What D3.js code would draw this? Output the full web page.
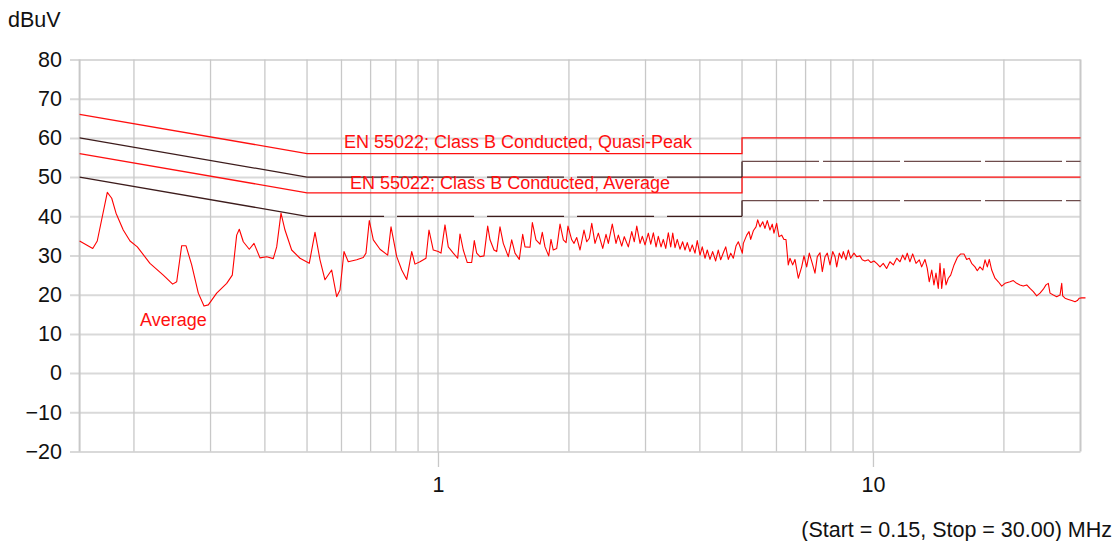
<!DOCTYPE html>
<html>
<head>
<meta charset="utf-8">
<script src="https://cdn.jsdelivr.net/npm/d3@7"></script>
<style>
  body { margin: 0; background: #fff; }
  svg { display: block; font-family: "Liberation Sans", Arial, Helvetica, sans-serif; }
</style>
</head>
<body>
<div id="chart"></div>
<script>
// EN 55022 conducted emission plot (average detector)

const yTicks = [-20, -10, 0, 10, 20, 30, 40, 50, 60, 70, 80];
const xLabelTicks = [1, 10];
const gridFreqs = [0.2, 0.3, 0.4, 0.5, 0.6, 0.7, 0.8, 0.9, 1, 2, 3, 4, 5, 6, 7, 8, 9, 10, 20, 30];

// limit lines [MHz, dBuV]
const qpLimit = [[0.15, 66], [0.5, 56], [5, 56], [5, 60], [30, 60]];
const avLimit = [[0.15, 56], [0.5, 46], [5, 46], [5, 50], [30, 50]];
const qpMargin = [[0.15, 60], [0.5, 50], [5, 50], [5, 54], [30, 54]];
const avMargin = [[0.15, 50], [0.5, 40], [5, 40], [5, 44], [30, 44]];

const avgFreq = [
  0.15, 0.1608, 0.1647, 0.1737, 0.1778, 0.1819, 0.189, 0.1959, 0.2036, 0.2177,
  0.2336, 0.2455, 0.2508, 0.2575, 0.2634, 0.2715, 0.2812, 0.2898, 0.2965, 0.3099,
  0.3268, 0.3366, 0.3445, 0.3493, 0.3568, 0.3683, 0.3776, 0.3897, 0.4038, 0.4182,
  0.4258, 0.4356, 0.4449, 0.4609, 0.4817, 0.5059, 0.5215, 0.5355, 0.5498, 0.5696,
  0.5849, 0.5953, 0.608, 0.622, 0.6503, 0.6734, 0.6831, 0.6952, 0.7101, 0.7357,
  0.7663, 0.7799, 0.8038, 0.8254, 0.8475, 0.8702, 0.8853, 0.9091, 0.9384, 0.9535,
  0.9754, 1.0016, 1.016, 1.0378, 1.056, 1.0844, 1.1099, 1.1235, 1.1433, 1.1678,
  1.1953, 1.2119, 1.2274, 1.249, 1.2757, 1.301, 1.3169, 1.3451, 1.3645, 1.3885,
  1.413, 1.451, 1.4773, 1.5033, 1.5379, 1.5658, 1.585, 1.628, 1.648, 1.68,
  1.716, 1.737, 1.762, 1.797, 1.819, 1.841, 1.875, 1.908, 1.942, 1.97,
  1.99, 2.03, 2.055, 2.084, 2.121,
  2.166, 2.198, 2.228, 2.257, 2.296, 2.337, 2.392, 2.434, 2.464, 2.516,
  2.566, 2.598, 2.645, 2.681, 2.739, 2.789, 2.827, 2.864, 2.914, 2.95,
  2.992, 3.045, 3.084, 3.127, 3.172, 3.21, 3.257, 3.296, 3.339, 3.385,
  3.428, 3.465, 3.507, 3.549, 3.6, 3.652, 3.697, 3.742, 3.796, 3.842,
  3.898, 3.945, 4.003, 4.051, 4.11, 4.16, 4.22, 4.28, 4.349, 4.409,
  4.466, 4.529, 4.587, 4.65, 4.71, 4.775, 4.843, 4.903, 4.966, 5.008,
  5.035, 5.126, 5.189, 5.235, 5.308, 5.385, 5.433, 5.5, 5.58, 5.645,
  5.715, 5.797, 5.868, 5.921, 6.006, 6.08, 6.167, 6.243, 6.31, 6.387,
  6.445, 6.538, 6.618, 6.735, 6.857, 6.941, 7.041, 7.139, 7.253, 7.357,
  7.448, 7.554, 7.648, 7.758, 7.853, 7.966, 8.081, 8.18, 8.254, 8.368,
  8.475, 8.547, 8.67, 8.777, 8.887, 9.043, 9.173, 9.335, 9.449, 9.585,
  9.754, 9.895, 10.05, 10.2, 10.38, 10.56, 10.75, 10.94, 11.14, 11.34,
  11.54, 11.7, 11.85, 11.99, 12.16, 12.34, 12.56, 12.78, 12.94, 13.17,
  13.33, 13.47, 13.65, 13.81, 13.96, 14.13, 14.26, 14.39, 14.56, 14.72,
  14.9, 15.09, 15.36, 15.63, 15.91, 16.19, 16.42, 16.65, 16.86, 17.16,
  17.37, 17.62, 17.88, 18.1, 18.32, 18.51, 18.75, 19.08, 19.42, 19.77,
  20.12, 20.66, 21.02, 21.4, 21.78, 22.16, 22.57, 22.96, 23.37, 23.79,
  24.21, 24.64, 24.99, 25.3, 25.53, 25.98, 26.45, 26.92, 27.16, 27.3,
  27.64, 28.13, 28.64, 29.14, 29.5, 29.81, 30.2, 30.8
];
const avgLevel = [
  33.7, 31.8, 33.7, 46.1, 44.6, 40.8, 36.5, 33.7, 32.2, 28.0,
  25.0, 22.7, 23.3, 32.5, 32.5, 27.6, 20.4, 17.1, 17.4, 20.4,
  22.9, 25.0, 35.2, 36.7, 33.5, 31.6, 33.1, 29.4, 29.7, 29.2,
  32.2, 40.8, 36.5, 31.4, 29.3, 28.0, 35.9, 28.9, 23.8, 26.3,
  19.5, 21.2, 31.0, 28.4, 28.9, 29.5, 30.6, 38.9, 34.0, 31.6,
  30.1, 37.3, 29.7, 26.3, 23.9, 31.0, 27.8, 28.4, 29.3, 36.5,
  31.4, 31.0, 30.6, 37.8, 32.2, 30.6, 29.3, 35.5, 31.4, 28.2,
  28.2, 33.8, 30.6, 29.7, 29.9, 37.5, 34.0, 31.4, 31.0, 37.3,
  33.1, 29.7, 34.0, 30.6, 29.0, 35.4, 32.2, 32.1, 38.4, 34.0,
  32.9, 35.9, 32.2, 29.9, 34.1, 31.4, 31.8, 38.0, 34.0, 33.3,
  37.5, 34.0, 33.1, 34.6, 31.4,
  36.5, 33.5, 34.4, 38.2, 33.1, 35.7, 31.8, 35.4, 33.1, 38.0,
  33.1, 35.2, 32.4, 34.8, 32.2, 36.1, 33.5, 37.5, 33.1, 34.9,
  32.7, 35.7, 32.9, 35.8, 32.2, 34.9, 32.2, 34.1, 31.8, 35.8,
  32.2, 35.7, 32.0, 34.1, 31.6, 33.5, 31.4, 33.3, 31.0, 32.7,
  30.6, 33.8, 30.1, 32.2, 29.3, 31.4, 29.0, 31.0, 28.6, 31.4,
  28.9, 30.7, 32.2, 29.0, 30.6, 29.3, 32.4, 33.5, 31.8, 30.6,
  33.1, 35.2, 36.1, 34.1, 36.3, 37.3, 39.1, 37.3, 38.6, 36.9,
  38.9, 36.5, 38.0, 35.7, 38.2, 34.8, 35.2, 34.1, 34.1, 27.6,
  29.3, 27.6, 29.0, 24.2, 27.1, 29.9, 27.1, 30.6, 28.0, 25.5,
  29.7, 30.7, 25.9, 29.7, 30.6, 27.6, 31.0, 29.7, 27.1, 30.6,
  29.3, 31.0, 28.9, 31.4, 29.3, 30.6, 29.7, 29.9, 28.9, 28.6,
  28.9, 28.2, 28.6, 28.0, 27.1, 28.0, 26.7, 28.4, 27.6, 29.3,
  28.4, 30.1, 28.9, 30.6, 28.4, 30.4, 28.0, 28.9, 27.1, 29.0,
  26.7, 23.3, 26.3, 22.5, 25.5, 21.6, 28.0, 21.6, 26.7, 22.5,
  24.2, 25.0, 27.6, 29.5, 30.4, 30.4, 29.0, 29.3, 28.0, 27.1,
  26.1, 27.1, 26.3, 28.9, 27.1, 29.0, 26.3, 24.2, 23.3, 22.2,
  22.9, 23.3, 23.6, 22.9, 22.5, 22.2, 22.5, 21.6, 20.8, 19.7,
  20.4, 21.4, 22.5, 22.9, 20.4, 19.9, 19.5, 19.9, 22.9, 19.7,
  19.1, 18.8, 18.5, 18.2, 18.5, 19.1, 19.2, 19.2
];

const width = 1118;
const height = 541;
const plot = { left: 79.6, right: 1080.5, top: 59.5, bottom: 451.5 };

const svg = d3.select("#chart")
  .append("svg")
  .attr("width", width)
  .attr("height", height);

const xScale = d3.scaleLog()
  .domain([0.15, 30])
  .range([plot.left, plot.right]);

const yScale = d3.scaleLinear()
  .domain([-20, 80])
  .range([plot.bottom, plot.top]);

// horizontal grid + y labels (axis drawn from x=70 so ticks stick out left)
const yAxis = svg.append("g")
  .attr("transform", `translate(70, 0)`)
  .call(d3.axisLeft(yScale)
    .tickValues(yTicks)
    .tickSize(-(plot.right - 70))
    .tickPadding(8));
yAxis.select(".domain").remove();
yAxis.selectAll("line")
  .attr("stroke", "#d9d9d9")
  .attr("stroke-width", 2);
yAxis.selectAll("text")
  .attr("fill", "#111")
  .style("font-size", "21.5px");

// vertical grid
svg.append("g")
  .selectAll("line")
  .data([0.15, ...gridFreqs])
  .join("line")
  .attr("x1", d => xScale(d))
  .attr("x2", d => xScale(d))
  .attr("y1", plot.top)
  .attr("y2", plot.bottom)
  .attr("stroke", "#c8c8c8")
  .attr("stroke-width", d => (d === 0.15 || d === 30) ? 2 : 1.3);

// x labels, only decades, ticks hang below the plot
const xAxis = svg.append("g")
  .attr("transform", `translate(0, ${plot.bottom})`)
  .call(d3.axisBottom(xScale)
    .tickValues(xLabelTicks)
    .tickFormat(d3.format("d"))
    .tickSize(15.5)
    .tickPadding(10));
xAxis.select(".domain").remove();
xAxis.selectAll("line")
  .attr("stroke", "#c8c8c8")
  .attr("stroke-width", 1.3);
xAxis.selectAll("text")
  .attr("fill", "#111")
  .style("font-size", "21.5px");

const line = d3.line()
  .x(d => xScale(d[0]))
  .y(d => yScale(d[1]));

// red limits
[qpLimit, avLimit].forEach(lim => {
  svg.append("path")
    .attr("d", line(lim))
    .attr("fill", "none")
    .attr("stroke", "#ff1010")
    .attr("stroke-width", 1.3);
});

// dark margin lines: slant solid, flat parts dashed, last part a bit faded
const segDash = [null, "77 13", null, "77 4"];
const segColor = ["#3d1c1c", "#3d1c1c", "#3d1c1c", "#6e4c4c"];
[qpMargin, avMargin].forEach(lim => {
  for (let i = 0; i < lim.length - 1; i++) {
    svg.append("path")
      .attr("d", line([lim[i], lim[i + 1]]))
      .attr("fill", "none")
      .attr("stroke", segColor[i])
      .attr("stroke-width", 1.3)
      .attr("stroke-dasharray", segDash[i]);
  }
});

// measured trace
const traceData = avgFreq.map((f, i) => [f, avgLevel[i]]);
svg.append("path")
  .attr("d", line(traceData))
  .attr("fill", "none")
  .attr("stroke", "#ff0000")
  .attr("stroke-width", 1.1)
  .attr("stroke-linejoin", "round");

// labels
svg.append("text")
  .text("EN 55022; Class B Conducted, Quasi-Peak")
  .attr("x", 518)
  .attr("y", 148)
  .attr("text-anchor", "middle")
  .attr("fill", "#ff1010")
  .style("font-size", "18px");

svg.append("text")
  .text("EN 55022; Class B Conducted, Average")
  .attr("x", 510)
  .attr("y", 189)
  .attr("text-anchor", "middle")
  .attr("fill", "#ff1010")
  .style("font-size", "18px");

svg.append("text")
  .text("Average")
  .attr("x", 140)
  .attr("y", 326)
  .attr("fill", "#ff1010")
  .style("font-size", "18px");

svg.append("text")
  .text("dBuV")
  .attr("x", 8)
  .attr("y", 27)
  .attr("fill", "#111")
  .style("font-size", "21.5px");

svg.append("text")
  .text("(Start = 0.15, Stop = 30.00) MHz")
  .attr("x", 1112)
  .attr("y", 537)
  .attr("text-anchor", "end")
  .attr("fill", "#111")
  .style("font-size", "21.5px");
</script>
</body>
</html>
